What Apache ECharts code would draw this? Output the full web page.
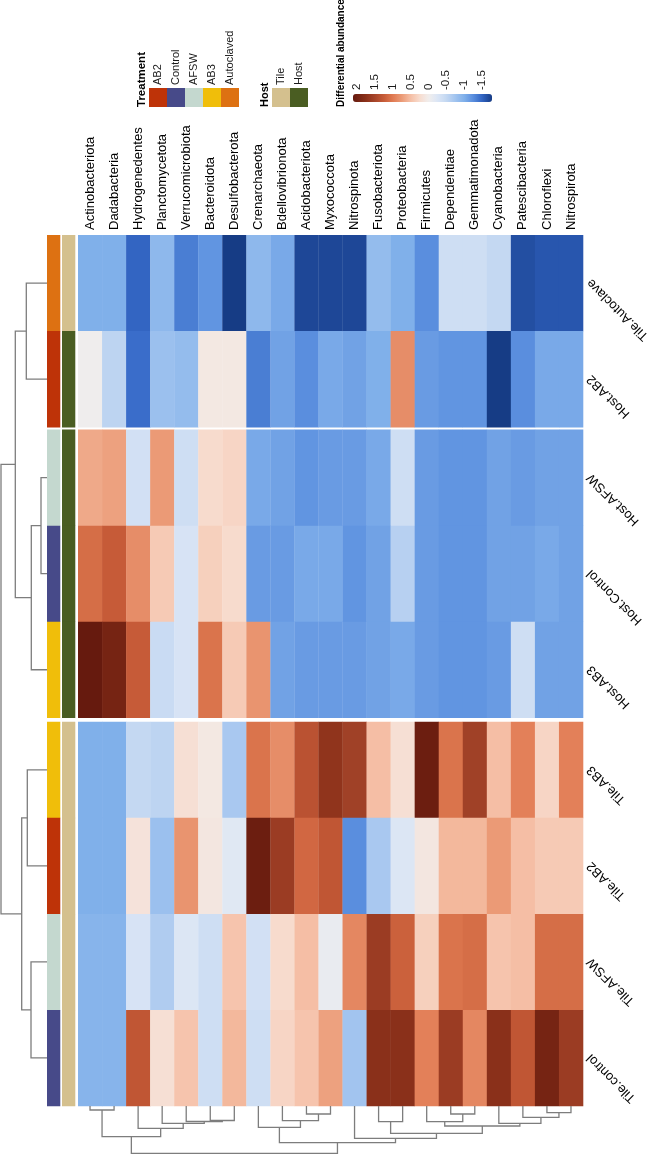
<!DOCTYPE html>
<html><head><meta charset="utf-8">
<script src="https://cdn.jsdelivr.net/npm/echarts@6/dist/echarts.min.js"></script>
<style>html,body{margin:0;padding:0;background:#fff}#c{width:652px;height:1155px}</style>
</head><body><div id="c"></div>
<script>
// ---------------- DATA ----------------
const phyla = ['Actinobacteriota','Dadabacteria','Hydrogenedentes','Planctomycetota','Verrucomicrobiota','Bacteroidota','Desulfobacterota','Crenarchaeota','Bdellovibrionota','Acidobacteriota','Myxococcota','Nitrospinota','Fusobacteriota','Proteobacteria','Firmicutes','Dependentiae','Gemmatimonadota','Cyanobacteria','Patescibacteria','Chloroflexi','Nitrospirota'];
const samples = ['Tile.Autoclave','Host.AB2','Host.AFSW','Host.Control','Host.AB3','Tile.AB3','Tile.AB2','Tile.AFSW','Tile.control'];
const treatmentOf = ['Autoclaved','AB2','AFSW','Control','AB3','AB3','AB2','AFSW','Control'];
const hostOf = ['Tile','Host','Host','Host','Host','Tile','Tile','Tile','Tile'];
const treatmentLevels = ['AB2','Control','AFSW','AB3','Autoclaved'];
const hostLevels = ['Tile','Host'];
const colorbarTicks = [2, 1.5, 1, 0.5, 0, -0.5, -1, -1.5];

// differential abundance, one array per sample (columns in phyla order)
const vTileAutoclave = [-1.0,-1.0,-1.5,-0.9,-1.35,-1.2,-1.78,-0.9,-1.05,-1.7,-1.7,-1.7,-0.85,-1.0,-1.25,-0.4,-0.4,-0.5,-1.65,-1.6,-1.6];
const vHostAB2       = [-0.02,-0.55,-1.45,-0.8,-0.85,0.08,0.08,-1.35,-1.1,-1.25,-1.05,-1.1,-1.0,0.85,-1.15,-1.2,-1.2,-1.78,-1.25,-1.05,-1.05];
const vHostAFSW      = [0.65,0.7,-0.35,0.75,-0.4,0.25,0.3,-1.05,-1.1,-1.2,-1.15,-1.15,-1.05,-0.4,-1.15,-1.2,-1.2,-1.1,-1.15,-1.1,-1.1];
const vHostControl   = [1.1,1.25,0.85,0.4,-0.3,0.35,0.25,-1.15,-1.15,-1.05,-1.05,-1.2,-1.1,-0.6,-1.15,-1.2,-1.2,-1.1,-1.1,-1.05,-1.1];
const vHostAB3       = [2.11,1.95,1.25,-0.45,-0.3,1.05,0.4,0.8,-1.1,-1.15,-1.15,-1.15,-1.1,-1.05,-1.15,-1.2,-1.2,-1.15,-0.4,-1.1,-1.1];
const vTileAB3       = [-1.0,-1.0,-0.5,-0.55,0.2,0.08,-0.7,1.05,0.85,1.35,1.7,1.55,0.5,0.2,2.05,1.05,1.55,0.5,0.95,0.3,0.95];
const vTileAB2       = [-1.0,-1.0,0.15,-0.8,0.8,0.1,-0.2,2.05,1.6,1.15,1.3,-1.25,-0.7,-0.25,0.1,0.55,0.55,0.75,0.5,0.4,0.4];
const vTileAFSW      = [-0.95,-0.95,-0.3,-0.65,-0.25,-0.4,0.45,-0.35,0.25,0.5,-0.1,0.9,1.6,1.2,0.35,1.05,1.1,0.45,0.5,1.1,1.1];
const vTileControl   = [-0.95,-0.95,1.3,0.2,0.45,-0.4,0.55,-0.4,0.3,0.45,0.7,-0.75,1.75,1.75,0.95,1.6,0.9,1.75,1.3,1.95,1.6];

// row clustering (hclust style: negative = leaf, positive = earlier merge)
const rowMerge = [[-3,-4],[1,-5],[-8,-9],[-6,-7],[-1,-2],[4,3],[5,2],[7,6]];
const rowMergeHeight = [6,15.7,16,19.7,20.7,25.3,31.7,46];
const rowGapsAfter = [2,5];
// column clustering
const colMerge = [[-1,-2],[-20,-21],[-10,-11],[-16,-17],[-19,2],[-6,-7],[-9,3],[-5,6],[-13,-14],[-15,4],
                  [-4,8],[-18,5],[10,12],[-8,7],[-3,11],[9,13],[1,15],[-12,16],[14,18],[17,19]];
const colMergeHeight = [4,6.7,8,8,11.3,14.5,14.7,15.5,15.7,15.7,17.3,17.3,20,21.3,22.3,27.3,30.7,32.3,36.7,47.3];

// ---------------- STYLE ----------------
const FONT = '"Liberation Sans", Arial, sans-serif';
const treatmentColors = {AB2:'#be3308', Control:'#474a89', AFSW:'#c4d8cf', AB3:'#f0be0a', Autoclaved:'#dd7112'};
const hostColors = {Tile:'#d4c08e', Host:'#4a5d22'};
const rampStops = [[-1.78,'#163c85'],[-1.5,'#3265c4'],[-1.25,'#5a8ede'],[-1.0,'#80b0ea'],[-0.75,'#a2c4ef'],[-0.5,'#c4d8f2'],[-0.25,'#dce6f5'],
  [0,'#f1eeed'],[0.25,'#f7dbcd'],[0.5,'#f5bfa5'],[0.75,'#eb9a76'],[1.0,'#e07a52'],[1.25,'#c65b37'],[1.5,'#a6452a'],[1.75,'#8a3019'],[2.11,'#661a0e']];

const gapPx = [2.5, 4];
const L = {hmLeft:78, hmTop:235, hmW:505, hmH:871, annLeft:47, annW:30, dendW:47, colDendH:48,
           cbLeft:353, cbTop:94, cbLen:139, cbThick:8};

// ---------------- DERIVED ----------------
const rowsVals = [vTileAutoclave,vHostAB2,vHostAFSW,vHostControl,vHostAB3,vTileAB3,vTileAB2,vTileAFSW,vTileControl];
const all = rowsVals.flat();
const vMin = Math.min(...all), vMax = Math.max(...all);
const rowPx = (L.hmH - gapPx[0] - gapPx[1]) / samples.length;
const gapUnits = gapPx.map(g => g / rowPx);
const rowTotal = samples.length + gapUnits[0] + gapUnits[1];
function rowStart(i){ let s=i; rowGapsAfter.forEach((g,k)=>{ if(i>=g) s+=gapUnits[k]; }); return s; }

function hex(c){return [parseInt(c.slice(1,3),16),parseInt(c.slice(3,5),16),parseInt(c.slice(5,7),16)];}
function rampAt(v){
  for(let k=0;k<rampStops.length-1;k++){
    const [a,ca]=rampStops[k],[b,cb]=rampStops[k+1];
    if(v<=b||k===rampStops.length-2){const t=Math.max(0,Math.min(1,(v-a)/(b-a)));const A=hex(ca),B=hex(cb);
      return 'rgb('+A.map((x,i)=>Math.round(x+(B[i]-x)*t)).join(',')+')';}
  }
}
const rampColors=[]; for(let k=0;k<=60;k++){ rampColors.push(rampAt(vMin+(vMax-vMin)*k/60)); }

const heatData=[]; rowsVals.forEach((arr,r)=>arr.forEach((v,c)=>heatData.push([c,r,v])));

function buildTree(merge, heights, leafPos){
  const nodes=[];
  const child = id => id<0 ? {pos:leafPos(-id-1), h:0} : nodes[id-1];
  merge.forEach((m,k)=>{const a=child(m[0]),b=child(m[1]); nodes.push({pos:(a.pos+b.pos)/2,h:heights[k],a,b});});
  return nodes;
}
const rowTree = buildTree(rowMerge,rowMergeHeight,i=>rowStart(i)+0.5);
const colTree = buildTree(colMerge,colMergeHeight,i=>i+0.5);

// colorbar label axis geometry (value axis aligned with the visualMap bar)
const ppu = L.cbLen/(vMax-vMin);
const axMax = 2.5, axMin = -2;
const cbAxisLeft = L.cbLeft + (vMax-axMax)*ppu;
const cbAxisWidth = (axMax-axMin)*ppu;

// ---------------- CHART ----------------
const chart = echarts.init(document.getElementById('c'), null, {renderer:'canvas', width:652, height:1155});
const dendStyle = {stroke:'#7d7d7d', lineWidth:1.3, fill:null};

const graphics=[];
function vText(x,y,text,font,fill){ return {type:'text', x, y, rotation:Math.PI/2, style:{text, font, fill:fill||'#1a1a1a', align:'left', verticalAlign:'middle'}}; }
graphics.push(vText(142,107,'Treatment','bold 11.5px '+FONT,'#000'));
treatmentLevels.forEach((t,i)=>{
  graphics.push({type:'rect', shape:{x:149+18*i, y:88, width:18, height:19}, style:{fill:treatmentColors[t]}});
  graphics.push(vText(149+18*i+9, 85, t, '11px '+FONT));
});
graphics.push(vText(265,107,'Host','bold 11px '+FONT,'#000'));
hostLevels.forEach((t,i)=>{
  graphics.push({type:'rect', shape:{x:272+18*i, y:88, width:18, height:19}, style:{fill:hostColors[t]}});
  graphics.push(vText(272+18*i+9, 85, t, '11px '+FONT));
});
graphics.push(vText(341,107,'Differential abundance','bold 10px '+FONT,'#000'));

chart.setOption({
  animation:false,
  backgroundColor:'#fff',
  grid:[
    {left:L.hmLeft, top:L.hmTop, width:L.hmW, height:L.hmH},
    {left:L.annLeft, top:L.hmTop, width:L.annW, height:L.hmH},
    {left:0, top:L.hmTop, width:L.dendW, height:L.hmH},
    {left:L.hmLeft, top:L.hmTop+L.hmH, width:L.hmW, height:L.colDendH},
    {left:cbAxisLeft, top:L.cbTop, width:cbAxisWidth, height:L.cbThick}
  ],
  xAxis:[
    {gridIndex:0, type:'category', data:phyla, position:'top', axisLine:{show:false}, axisTick:{show:false},
     axisLabel:{interval:0, rotate:90, margin:5, fontSize:13, fontFamily:FONT, color:'#000'}, splitLine:{show:false}},
    {gridIndex:1, type:'value', min:0, max:2, show:false},
    {gridIndex:2, type:'value', min:0, max:L.dendW, inverse:true, show:false},
    {gridIndex:3, type:'value', min:0, max:phyla.length, show:false},
    {gridIndex:4, type:'value', min:axMin, max:axMax, interval:0.5, inverse:true, position:'top',
     axisLine:{show:false}, axisTick:{show:false}, splitLine:{show:false},
     axisLabel:{rotate:90, margin:4, fontSize:11.5, fontFamily:FONT, color:'#1a1a1a',
       formatter:v=>colorbarTicks.some(t=>Math.abs(t-v)<1e-9)?String(v):''}}
  ],
  yAxis:[
    {gridIndex:0, type:'value', min:0, max:rowTotal, inverse:true, show:false},
    {gridIndex:1, type:'value', min:0, max:rowTotal, inverse:true, show:false},
    {gridIndex:2, type:'value', min:0, max:rowTotal, inverse:true, show:false},
    {gridIndex:3, type:'value', min:0, max:L.colDendH, inverse:true, show:false},
    {gridIndex:4, type:'value', min:0, max:1, show:false}
  ],
  visualMap:{type:'continuous', seriesIndex:0, dimension:2, min:vMin, max:vMax, orient:'horizontal', inverse:true,
    left:L.cbLeft, top:L.cbTop, itemWidth:L.cbThick, itemHeight:L.cbLen, padding:0, calculable:false, text:null, showLabel:false,
    inRange:{color:rampColors}, hoverLink:false},
  graphic:graphics,
  series:[
    {type:'custom', xAxisIndex:0, yAxisIndex:0, data:heatData, dimensions:['x','y','v'],
     renderItem:(p,api)=>{
       const c=api.value(0), r=api.value(1), y0=rowStart(r);
       const a=api.coord([c,y0]), b=api.coord([c,y0+1]); const bw=api.size([1,0])[0];
       return {type:'rect', shape:{x:a[0]-bw/2, y:a[1], width:bw+0.3, height:b[1]-a[1]+0.3}, style:{fill:api.visual('color')}};
     }},
    {type:'custom', xAxisIndex:0, yAxisIndex:0, data:samples.map((s,r)=>[phyla.length-1, r]), silent:true,
     renderItem:(p,api)=>{
       const r=api.value(1); const a=api.coord([phyla.length-1, rowStart(r)+0.5]); const bw=api.size([1,0])[0];
       return {type:'text', x:a[0]+bw/2+6, y:a[1]-2, rotation:135*Math.PI/180,
               style:{text:samples[r], font:'13px '+FONT, fill:'#000', align:'right', verticalAlign:'middle'}};
     }},
    {type:'custom', xAxisIndex:1, yAxisIndex:1, data:samples.flatMap((s,r)=>[[0,r],[1,r]]), silent:true,
     renderItem:(p,api)=>{
       const col=api.value(0), r=api.value(1), y0=rowStart(r);
       const a=api.coord([col,y0]), b=api.coord([col+1,y0+1]);
       const fill = col===0 ? treatmentColors[treatmentOf[r]] : hostColors[hostOf[r]];
       return {type:'rect', shape:{x:a[0], y:a[1], width:b[0]-a[0]-1.7, height:b[1]-a[1]+0.3}, style:{fill}};
     }},
    {type:'custom', xAxisIndex:2, yAxisIndex:2, data:rowTree.map((n,k)=>[k,0]), silent:true, clip:false,
     renderItem:(p,api)=>{
       const n=rowTree[api.value(0)]; const P=(h,pos)=>api.coord([h,pos]);
       return {type:'polyline', shape:{points:[P(n.a.h,n.a.pos),P(n.h,n.a.pos),P(n.h,n.b.pos),P(n.b.h,n.b.pos)]}, style:dendStyle};
     }},
    {type:'custom', xAxisIndex:3, yAxisIndex:3, data:colTree.map((n,k)=>[k,0]), silent:true, clip:false,
     renderItem:(p,api)=>{
       const n=colTree[api.value(0)]; const P=(pos,h)=>api.coord([pos,h]);
       return {type:'polyline', shape:{points:[P(n.a.pos,n.a.h),P(n.a.pos,n.h),P(n.b.pos,n.h),P(n.b.pos,n.b.h)]}, style:dendStyle};
     }},
    {type:'custom', xAxisIndex:4, yAxisIndex:4, data:[], renderItem:()=>null}
  ]
});
</script>
</body></html>
